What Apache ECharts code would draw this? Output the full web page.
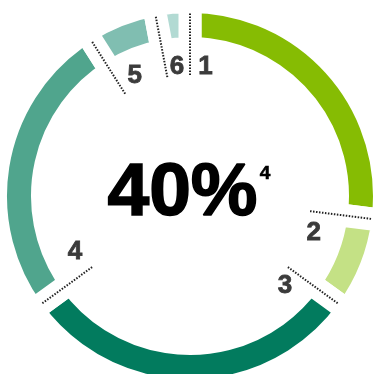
<!DOCTYPE html>
<html>
<head>
<meta charset="utf-8">
<script src="https://cdn.jsdelivr.net/npm/echarts@6/dist/echarts.min.js"></script>
<style>html,body{margin:0;padding:0;background:#fff;}#c{width:375px;height:374px;}</style>
</head>
<body>
<div id="c"></div>
<script>
// ---- data ----
const categories = ['1', '2', '3', '4', '5', '6'];
const values = [27, 8, 30, 26, 6, 3];
const centerText = '40%';
const footnoteMark = '4';

// ---- style / layout ----
const colors = ['#86BC03', '#C4E185', '#027B5E', '#50A58D', '#80BEB1', '#B2DAD3'];
const labelAngleOffsetDeg = [6.8, 9.2, 7.5, 10, 7.7, 5];
const labelRadius = [130, 129, 131, 128, 132, 130];
const CX = 190, CY = 196, R_OUT = 183, R_IN = 159, GAP = 23, LINE_R0 = 121;
const FONT = 'Liberation Sans, Arial, sans-serif';
const total = values.reduce((a, b) => a + b, 0);
const starts = [];
values.reduce((acc, v) => { starts.push(acc); return acc + v; }, 0);

const chart = echarts.init(document.getElementById('c'), null, { renderer: 'canvas' });
chart.setOption({
  animation: false,
  backgroundColor: '#fff',
  polar: { center: [CX, CY], radius: R_OUT },
  radiusAxis: { type: 'value', min: 0, max: R_OUT, show: false },
  angleAxis: { type: 'value', min: 0, max: total, startAngle: 90, clockwise: true, show: false },
  graphic: [
    { type: 'text', x: 182.5, y: 194, z: 100, style: { text: centerText, fontFamily: FONT, fontWeight: 'bold', fontSize: 75, fill: '#000', stroke: '#000', lineWidth: 1.6, align: 'center', verticalAlign: 'middle' } },
    { type: 'text', x: 265, y: 174, z: 100, style: { text: footnoteMark, fontFamily: FONT, fontWeight: 'bold', fontSize: 19, fill: '#000', stroke: '#000', lineWidth: 0.6, align: 'center', verticalAlign: 'middle' } }
  ],
  series: [
    {
      type: 'pie',
      z: 1,
      center: [CX, CY],
      radius: [R_IN - GAP / 2, R_OUT + GAP / 2],
      startAngle: 90,
      clockwise: true,
      silent: true,
      label: { show: false },
      labelLine: { show: false },
      itemStyle: { borderColor: '#fff', borderWidth: GAP },
      data: categories.map((c, i) => ({ name: c, value: values[i], itemStyle: { color: colors[i] } }))
    },
    {
      type: 'custom',
      coordinateSystem: 'polar',
      z: 10,
      silent: true,
      data: starts.map((s, i) => [s, i]),
      renderItem: function (params, api) {
        const s = api.value(0);
        const i = api.value(1);
        const p1 = api.coord([LINE_R0, s]);
        const p2 = api.coord([R_OUT, s]);
        const off = total * labelAngleOffsetDeg[i] / 360;
        const pl = api.coord([labelRadius[i], s + off]);
        return {
          type: 'group',
          children: [
            { type: 'line', shape: { x1: p1[0], y1: p1[1], x2: p2[0], y2: p2[1] },
              style: { stroke: '#222', lineWidth: 2, lineDash: [1.5, 1.5] } },
            { type: 'text', x: pl[0], y: pl[1],
              style: { text: categories[i], fontFamily: FONT, fontWeight: 'bold', fontSize: 26, fill: '#3b3b3b', stroke: '#3b3b3b', lineWidth: 0.8, align: 'center', verticalAlign: 'middle' } }
          ]
        };
      }
    }
  ]
});
</script>
</body>
</html>
